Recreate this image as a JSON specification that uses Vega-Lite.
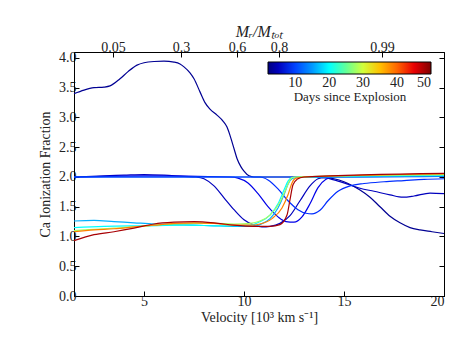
{
  "$schema": "https://vega.github.io/schema/vega-lite/v6.json",
  "width": 370,
  "height": 244,
  "autosize": "none",
  "padding": {"left": 74, "top": 52, "right": 19, "bottom": 52},
  "background": "white",
  "config": {
    "view": {"stroke": "black", "strokeWidth": 1},
    "font": "Liberation Serif",
    "axis": {"grid": false, "labelFont": "Liberation Serif", "titleFont": "Liberation Serif", "labelFontSize": 14, "titleFontSize": 14, "titleFontWeight": "normal", "labelColor": "#222", "titleColor": "#222", "domainColor": "black", "tickColor": "black", "tickSize": -5, "labelPadding": 3}
  },
  "data": {"values": [
    {"d":3,"v":1.5,"f":3.40},{"d":3,"v":2.0,"f":3.46},{"d":3,"v":2.5,"f":3.50},{"d":3,"v":3.0,"f":3.51},{"d":3,"v":3.3,"f":3.53},{"d":3,"v":3.8,"f":3.65},{"d":3,"v":4.2,"f":3.77},{"d":3,"v":4.65,"f":3.88},{"d":3,"v":5.0,"f":3.92},{"d":3,"v":5.5,"f":3.94},{"d":3,"v":6.0,"f":3.945},{"d":3,"v":6.5,"f":3.93},{"d":3,"v":6.8,"f":3.9},{"d":3,"v":7.0,"f":3.85},{"d":3,"v":7.3,"f":3.75},{"d":3,"v":7.5,"f":3.65},{"d":3,"v":7.8,"f":3.43},{"d":3,"v":8.05,"f":3.25},{"d":3,"v":8.3,"f":3.14},{"d":3,"v":8.65,"f":3.04},{"d":3,"v":8.95,"f":2.94},{"d":3,"v":9.15,"f":2.84},{"d":3,"v":9.3,"f":2.7},{"d":3,"v":9.4,"f":2.59},{"d":3,"v":9.55,"f":2.42},{"d":3,"v":9.65,"f":2.31},{"d":3,"v":9.85,"f":2.17},{"d":3,"v":10.0,"f":2.1},{"d":3,"v":10.25,"f":2.02},{"d":3,"v":10.5,"f":2.0},{"d":3,"v":11.5,"f":2.0},{"d":3,"v":12.5,"f":2.0},{"d":3,"v":13.5,"f":2.0},{"d":3,"v":14.0,"f":1.99},{"d":3,"v":14.5,"f":1.97},{"d":3,"v":15.0,"f":1.92},{"d":3,"v":15.5,"f":1.84},{"d":3,"v":15.8,"f":1.78},{"d":3,"v":16.3,"f":1.66},{"d":3,"v":16.8,"f":1.5},{"d":3,"v":17.3,"f":1.34},{"d":3,"v":17.8,"f":1.23},{"d":3,"v":18.3,"f":1.15},{"d":3,"v":18.8,"f":1.11},{"d":3,"v":19.4,"f":1.08},{"d":3,"v":20.0,"f":1.05},

    {"d":5,"v":1.5,"f":2.0},{"d":5,"v":3.0,"f":2.02},{"d":5,"v":4.0,"f":2.03},{"d":5,"v":5.0,"f":2.04},{"d":5,"v":6.0,"f":2.03},{"d":5,"v":7.0,"f":2.01},{"d":5,"v":7.6,"f":2.0},{"d":5,"v":8.0,"f":1.97},{"d":5,"v":8.5,"f":1.85},{"d":5,"v":9.0,"f":1.65},{"d":5,"v":9.5,"f":1.45},{"d":5,"v":10.0,"f":1.28},{"d":5,"v":10.5,"f":1.19},{"d":5,"v":10.9,"f":1.16},{"d":5,"v":11.3,"f":1.17},{"d":5,"v":11.8,"f":1.22},{"d":5,"v":12.3,"f":1.35},{"d":5,"v":12.8,"f":1.6},{"d":5,"v":13.3,"f":1.85},{"d":5,"v":13.7,"f":1.97},{"d":5,"v":14.0,"f":1.99},{"d":5,"v":14.5,"f":1.95},{"d":5,"v":15.0,"f":1.9},{"d":5,"v":15.8,"f":1.81},{"d":5,"v":16.5,"f":1.76},{"d":5,"v":17.3,"f":1.7},{"d":5,"v":17.95,"f":1.66},{"d":5,"v":18.5,"f":1.68},{"d":5,"v":19.3,"f":1.73},{"d":5,"v":20.0,"f":1.72},

    {"d":7,"v":1.5,"f":2.0},{"d":7,"v":5.0,"f":2.02},{"d":7,"v":9.3,"f":2.0},{"d":7,"v":9.7,"f":1.98},{"d":7,"v":10.2,"f":1.9},{"d":7,"v":10.7,"f":1.72},{"d":7,"v":11.2,"f":1.5},{"d":7,"v":11.7,"f":1.33},{"d":7,"v":12.1,"f":1.25},{"d":7,"v":12.5,"f":1.24},{"d":7,"v":12.9,"f":1.33},{"d":7,"v":13.3,"f":1.55},{"d":7,"v":13.7,"f":1.82},{"d":7,"v":14.1,"f":1.96},{"d":7,"v":14.5,"f":2.0},{"d":7,"v":20.0,"f":2.01},

    {"d":9,"v":1.5,"f":2.0},{"d":9,"v":10.8,"f":2.0},{"d":9,"v":11.2,"f":1.95},{"d":9,"v":11.7,"f":1.8},{"d":9,"v":12.2,"f":1.6},{"d":9,"v":12.7,"f":1.45},{"d":9,"v":13.1,"f":1.39},{"d":9,"v":13.4,"f":1.38},{"d":9,"v":13.8,"f":1.44},{"d":9,"v":14.2,"f":1.6},{"d":9,"v":14.7,"f":1.76},{"d":9,"v":15.3,"f":1.85},{"d":9,"v":16.0,"f":1.89},{"d":9,"v":17.0,"f":1.92},{"d":9,"v":18.0,"f":1.94},{"d":9,"v":19.0,"f":1.96},{"d":9,"v":20.0,"f":1.97},

    {"d":11,"v":1.5,"f":2.0},{"d":11,"v":10.0,"f":2.0},{"d":11,"v":15.0,"f":2.0},{"d":11,"v":20.0,"f":2.01},

    {"d":16,"v":1.5,"f":1.26},{"d":16,"v":2.5,"f":1.27},{"d":16,"v":3.5,"f":1.25},{"d":16,"v":4.5,"f":1.23},{"d":16,"v":5.5,"f":1.21},{"d":16,"v":6.5,"f":1.2},{"d":16,"v":7.5,"f":1.19},{"d":16,"v":8.5,"f":1.18},{"d":16,"v":9.5,"f":1.17},{"d":16,"v":10.3,"f":1.17},{"d":16,"v":10.8,"f":1.2},{"d":16,"v":11.3,"f":1.3},{"d":16,"v":11.7,"f":1.48},{"d":16,"v":12.0,"f":1.7},{"d":16,"v":12.2,"f":1.88},{"d":16,"v":12.4,"f":1.97},{"d":16,"v":12.7,"f":2.0},{"d":16,"v":14.0,"f":2.0},{"d":16,"v":17.0,"f":2.01},{"d":16,"v":20.0,"f":2.02},

    {"d":20,"v":1.5,"f":1.15},{"d":20,"v":3.0,"f":1.17},{"d":20,"v":5.0,"f":1.18},{"d":20,"v":7.0,"f":1.19},{"d":20,"v":9.0,"f":1.18},{"d":20,"v":10.3,"f":1.19},{"d":20,"v":10.8,"f":1.25},{"d":20,"v":11.3,"f":1.36},{"d":20,"v":11.7,"f":1.55},{"d":20,"v":12.0,"f":1.78},{"d":20,"v":12.2,"f":1.93},{"d":20,"v":12.4,"f":1.99},{"d":20,"v":13.0,"f":2.0},{"d":20,"v":20.0,"f":2.03},

    {"d":28,"v":1.5,"f":1.10},{"d":28,"v":2.5,"f":1.12},{"d":28,"v":3.5,"f":1.14},{"d":28,"v":4.5,"f":1.16},{"d":28,"v":5.5,"f":1.19},{"d":28,"v":6.5,"f":1.21},{"d":28,"v":7.5,"f":1.22},{"d":28,"v":8.5,"f":1.22},{"d":28,"v":9.5,"f":1.21},{"d":28,"v":10.3,"f":1.22},{"d":28,"v":10.8,"f":1.26},{"d":28,"v":11.3,"f":1.36},{"d":28,"v":11.8,"f":1.58},{"d":28,"v":12.1,"f":1.8},{"d":28,"v":12.3,"f":1.95},{"d":28,"v":12.5,"f":2.0},{"d":28,"v":20.0,"f":2.04},

    {"d":38,"v":1.5,"f":1.08},{"d":38,"v":2.5,"f":1.11},{"d":38,"v":3.5,"f":1.13},{"d":38,"v":4.5,"f":1.16},{"d":38,"v":5.5,"f":1.19},{"d":38,"v":6.5,"f":1.22},{"d":38,"v":7.5,"f":1.23},{"d":38,"v":8.5,"f":1.22},{"d":38,"v":9.5,"f":1.19},{"d":38,"v":10.3,"f":1.19},{"d":38,"v":10.8,"f":1.21},{"d":38,"v":11.4,"f":1.3},{"d":38,"v":11.9,"f":1.48},{"d":38,"v":12.2,"f":1.7},{"d":38,"v":12.4,"f":1.9},{"d":38,"v":12.6,"f":1.98},{"d":38,"v":13.0,"f":2.0},{"d":38,"v":20.0,"f":2.05},

    {"d":48,"v":1.5,"f":0.93},{"d":48,"v":2.5,"f":1.03},{"d":48,"v":3.5,"f":1.08},{"d":48,"v":4.5,"f":1.14},{"d":48,"v":5.5,"f":1.21},{"d":48,"v":6.5,"f":1.24},{"d":48,"v":7.5,"f":1.25},{"d":48,"v":8.5,"f":1.23},{"d":48,"v":9.5,"f":1.19},{"d":48,"v":10.5,"f":1.17},{"d":48,"v":11.3,"f":1.17},{"d":48,"v":11.8,"f":1.2},{"d":48,"v":12.15,"f":1.36},{"d":48,"v":12.3,"f":1.62},{"d":48,"v":12.45,"f":1.87},{"d":48,"v":12.65,"f":1.96},{"d":48,"v":13.0,"f":2.0},{"d":48,"v":20.0,"f":2.06}
  ]},
  "layer": [
    {
      "mark": {"type": "line", "strokeWidth": 1.2, "interpolate": "monotone"},
      "encoding": {
        "x": {"field": "v", "type": "quantitative", "scale": {"domain": [1.5, 20], "nice": false, "zero": false},
              "axis": {"orient": "bottom", "values": [5, 10, 15, 20], "title": "Velocity [10³ km s⁻¹]", "titlePadding": 2}},
        "y": {"field": "f", "type": "quantitative", "scale": {"domain": [0, 4.1], "nice": false, "zero": false},
              "axis": {"orient": "left", "values": [0, 0.5, 1, 1.5, 2, 2.5, 3, 3.5, 4], "format": ".1f", "title": "Ca Ionization Fraction", "titlePadding": 6}},
        "color": {"field": "d", "type": "quantitative",
                  "scale": {"type": "linear", "domain": [2, 8, 14, 20, 26, 32, 38, 44, 50], "range": ["#00007f", "#0000ff", "#007fff", "#00ffff", "#7fff7f", "#ffff00", "#ff7f00", "#ff0000", "#7f0000"]},
                  "legend": {"orient": "none", "legendX": 194, "legendY": 10, "direction": "horizontal", "gradientLength": 163, "gradientThickness": 12,
                             "values": [10, 20, 30, 40, 50], "labelAlign": "center", "labelFontSize": 14, "labelFont": "Liberation Serif", "labelColor": "#222",
                             "title": "Days since Explosion", "titleOrient": "bottom", "titleAnchor": "middle", "titleFontWeight": "normal", "titleFontSize": 13, "titleFont": "Liberation Serif", "titleColor": "#222", "titlePadding": 1,
                             "gradientStrokeColor": "black", "gradientStrokeWidth": 1, "labelOffset": 2}}
      }
    },
    {
      "mark": {"type": "line", "opacity": 0},
      "encoding": {
        "x": {"field": "v", "type": "quantitative",
              "axis": {"orient": "top", "values": [3.45, 6.85, 9.65, 11.75, 16.9], "labelExpr": "datum.value < 5 ? '0.05' : datum.value < 8 ? '0.3' : datum.value < 10.5 ? '0.6' : datum.value < 14 ? '0.8' : '0.99'", "title": "Mᵣ/Mₜₒₜ", "titleFontStyle": "italic", "titleFontSize": 16, "titlePadding": 1}},
        "y": {"field": "f", "type": "quantitative",
              "axis": {"orient": "right", "values": [0, 0.5, 1, 1.5, 2, 2.5, 3, 3.5, 4], "labels": false, "title": null}},
        "detail": {"field": "d"}
      }
    }
  ],
  "resolve": {"axis": {"x": "independent", "y": "independent"}}
}
